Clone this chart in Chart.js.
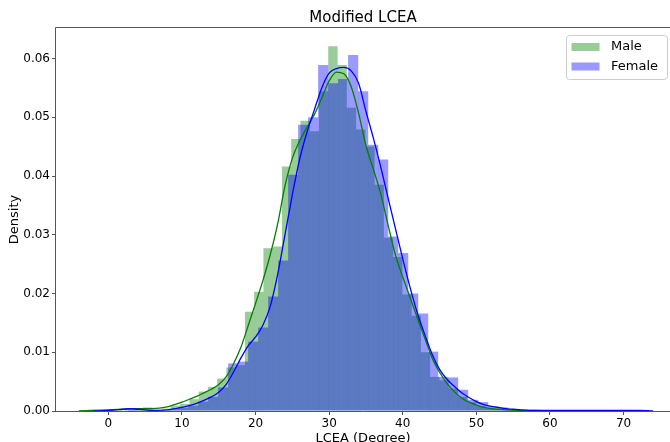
<!DOCTYPE html>
<html>
<head>
<meta charset="utf-8">
<title>Modified LCEA</title>
<script src="https://cdn.jsdelivr.net/npm/chart.js"></script>
<style>
    html, body { margin: 0; padding: 0; background: #fff; overflow: hidden; }
    #chartBox { width: 670px; height: 442px; }
</style>
</head>
<body>
<div id="chartBox"><canvas id="lceaChart" width="670" height="442"></canvas></div>
<script>
// histogram bin centres (degrees) and densities
const maleBins = [-2.171, -0.914, 0.343, 1.600, 2.857, 4.114, 5.371, 6.629, 7.886, 9.143,
    10.400, 11.657, 12.914, 14.171, 15.429, 16.686, 17.943, 19.200, 20.457, 21.714,
    22.971, 24.229, 25.486, 26.743, 28.000, 29.257, 30.514, 31.771, 33.029, 34.286,
    35.543, 36.800, 38.057, 39.314, 40.571, 41.829, 43.086, 44.343, 45.600, 46.857,
    48.114, 49.371, 50.629, 51.886, 53.143, 54.400, 55.657, 56.914, 58.171, 59.429];
const maleDensity = [0.0002, 0.0000, 0.0001, 0.0001, 0.0002, 0.0002, 0.0006, 0.0002, 0.0004, 0.0009,
    0.0012, 0.0020, 0.0033, 0.0041, 0.0055, 0.0074, 0.0078, 0.0169, 0.0203, 0.0277,
    0.0280, 0.0416, 0.0463, 0.0494, 0.0476, 0.0544, 0.0621, 0.0589, 0.0516, 0.0479,
    0.0450, 0.0385, 0.0295, 0.0262, 0.0198, 0.0162, 0.0100, 0.0058, 0.0052, 0.0038,
    0.0024, 0.0015, 0.0008, 0.0005, 0.0003, 0.0002, 0.0001, 0.0001, 0.0000, 0.0001];

const femaleBins = [3.389, 4.747, 6.105, 7.463, 8.821, 10.179, 11.537, 12.895, 14.253, 15.611,
    16.969, 18.327, 19.685, 21.043, 22.401, 23.759, 25.117, 26.475, 27.833, 29.191,
    30.549, 31.907, 33.265, 34.623, 35.981, 37.339, 38.697, 40.055, 41.413, 42.771,
    44.129, 45.487, 46.845, 48.203, 49.561, 50.919, 52.277, 53.635, 54.993, 56.351,
    57.709, 59.067, 60.425, 61.783, 63.141, 64.499, 65.857, 67.215, 68.573, 69.931];
const femaleDensity = [0.0003, 0.0000, 0.0001, 0.0001, 0.0003, 0.0005, 0.0009, 0.0016, 0.0024, 0.0040,
    0.0081, 0.0084, 0.0118, 0.0142, 0.0195, 0.0256, 0.0402, 0.0487, 0.0500, 0.0589,
    0.0558, 0.0565, 0.0606, 0.0544, 0.0453, 0.0428, 0.0297, 0.0269, 0.0200, 0.0166,
    0.0101, 0.0058, 0.0057, 0.0036, 0.0019, 0.0015, 0.0008, 0.0006, 0.0003, 0.0002,
    0.0001, 0.0001, 0.0000, 0.0001, 0.0000, 0.0000, 0.0000, 0.0001, 0.0000, 0.0001];

// kde curves
const maleKdeX = [-4, -2, 0, 2, 4, 6, 8, 9, 10, 11, 12, 13, 14, 15, 16, 17, 18, 19, 20, 21,
    22, 23, 24, 25, 26, 27, 28, 29, 30, 31, 32, 33, 34, 35, 36, 37, 38, 39, 40, 41,
    42, 43, 44, 45, 46, 47, 48, 49, 50, 51, 52, 53, 54, 56, 58, 60, 62, 64];
const maleKde = [0.0000, 0.0001, 0.0002, 0.0003, 0.0004, 0.0004, 0.0007, 0.0011, 0.0015, 0.0020,
    0.0025, 0.0031, 0.0037, 0.0045, 0.0058, 0.0080, 0.0108, 0.0145, 0.0183, 0.0222,
    0.0266, 0.0318, 0.0383, 0.0430, 0.0460, 0.0483, 0.0505, 0.0533, 0.0562, 0.0577,
    0.0574, 0.0552, 0.0507, 0.0452, 0.0412, 0.0370, 0.0317, 0.0266, 0.0228, 0.0193,
    0.0158, 0.0124, 0.0090, 0.0066, 0.0047, 0.0033, 0.0022, 0.0015, 0.0010, 0.0006,
    0.0004, 0.0003, 0.0002, 0.0001, 0.0001, 0.0000, 0.0000, 0.0000];

const femaleKdeX = [-2, 0, 2, 3, 4, 5, 6, 8, 9, 10, 11, 12, 13, 14, 15, 16, 17, 18, 19, 20,
    21, 22, 23, 24, 25, 26, 27, 28, 29, 30, 31, 32, 33, 34, 35, 36, 37, 38, 39, 40,
    41, 42, 43, 44, 45, 46, 47, 48, 49, 50, 51, 52, 53, 54, 55, 56, 58, 60, 62, 65,
    68, 70, 72, 74];
const femaleKde = [0.0000, 0.0001, 0.0003, 0.0004, 0.0003, 0.0002, 0.0001, 0.0002, 0.0004, 0.0006,
    0.0009, 0.0013, 0.0018, 0.0024, 0.0032, 0.0045, 0.0066, 0.0090, 0.0111, 0.0126,
    0.0146, 0.0178, 0.0232, 0.0300, 0.0368, 0.0429, 0.0475, 0.0513, 0.0550, 0.0575,
    0.0583, 0.0585, 0.0579, 0.0558, 0.0510, 0.0465, 0.0416, 0.0363, 0.0311, 0.0259,
    0.0210, 0.0166, 0.0130, 0.0096, 0.0071, 0.0054, 0.0042, 0.0031, 0.0023, 0.0016,
    0.0011, 0.0008, 0.0006, 0.0004, 0.0003, 0.0002, 0.0001, 0.0001, 0.0001, 0.0001,
    0.0001, 0.0001, 0.0001, 0.0000];

const xTicks = [0, 10, 20, 30, 40, 50, 60, 70];
const yTicks = [0, 0.01, 0.02, 0.03, 0.04, 0.05, 0.06];

const GREEN = 'rgba(0, 128, 0, 0.4)';
const BLUE = 'rgba(0, 0, 255, 0.4)';
const SPINE = '#555';

function toPoints(xs, ys) {
    return xs.map((x, i) => ({ x, y: ys[i] }));
}

function roundRect(ctx, x, y, w, h, r) {
    ctx.beginPath();
    ctx.moveTo(x + r, y);
    ctx.lineTo(x + w - r, y);
    ctx.arcTo(x + w, y, x + w, y + r, r);
    ctx.lineTo(x + w, y + h - r);
    ctx.arcTo(x + w, y + h, x + w - r, y + h, r);
    ctx.lineTo(x + r, y + h);
    ctx.arcTo(x, y + h, x, y + h - r, r);
    ctx.lineTo(x, y + r);
    ctx.arcTo(x, y, x + r, y, r);
    ctx.closePath();
}

// matplotlib-like spines and the boxed legend in the top right corner
const frameAndLegend = {
    id: 'frameAndLegend',
    afterDatasetsDraw(chart) {
        const { ctx, chartArea: a } = chart;
        ctx.save();
        ctx.strokeStyle = SPINE;
        ctx.lineWidth = 1;
        ctx.beginPath();
        ctx.moveTo(a.right + 5, a.top - 0.5);
        ctx.lineTo(a.left - 0.5, a.top - 0.5);
        ctx.lineTo(a.left - 0.5, a.bottom + 0.5);
        ctx.lineTo(a.right + 5, a.bottom + 0.5);
        ctx.stroke();

        const items = chart.data.datasets.filter(d => d.type === 'bar');
        const w = 101, h = 44;
        const x = a.right - 3 - w, y = a.top + 7;
        roundRect(ctx, x + 0.5, y + 0.5, w, h, 3);
        ctx.fillStyle = 'rgba(255, 255, 255, 0.8)';
        ctx.fill();
        ctx.strokeStyle = '#cccccc';
        ctx.stroke();
        ctx.font = '13px "DejaVu Sans"';
        ctx.textBaseline = 'middle';
        items.forEach((d, i) => {
            const cy = y + 12 + i * 19.5;
            ctx.fillStyle = d.backgroundColor;
            ctx.fillRect(x + 5.5, cy - 4, 28, 8);
            ctx.fillStyle = '#000';
            ctx.fillText(d.label, x + 45, cy);
        });
        ctx.restore();
    }
};

Chart.defaults.font.family = '"DejaVu Sans"';
Chart.defaults.color = '#000';

const axisFont = { size: 12 };
const tickGrid = { drawOnChartArea: false, drawTicks: true, tickLength: 4, color: SPINE, offset: false };

// each histogram sits on its own x axis (same range) so the bar width
// follows its own bin spacing; grouped:false lets them overlap.
// a tiny inflate hides the anti-aliasing seams between neighbouring bars
const histStyle = {
    type: 'bar',
    grouped: false,
    borderWidth: 0,
    barPercentage: 1,
    categoryPercentage: 1,
    inflateAmount: 0.07
};

new Chart(document.getElementById('lceaChart'), {
    type: 'bar',
    data: {
        datasets: [
            {
                ...histStyle,
                label: 'Male',
                data: toPoints(maleBins, maleDensity),
                xAxisID: 'x',
                backgroundColor: GREEN,
                order: 4
            },
            {
                ...histStyle,
                label: 'Female',
                data: toPoints(femaleBins, femaleDensity),
                xAxisID: 'x2',
                backgroundColor: BLUE,
                order: 3
            },
            {
                type: 'line',
                label: 'Male KDE',
                data: toPoints(maleKdeX, maleKde),
                xAxisID: 'x',
                borderColor: '#008000',
                borderWidth: 1.3,
                pointRadius: 0,
                fill: false,
                cubicInterpolationMode: 'monotone',
                order: 2
            },
            {
                type: 'line',
                label: 'Female KDE',
                data: toPoints(femaleKdeX, femaleKde),
                xAxisID: 'x',
                borderColor: '#0000ff',
                borderWidth: 1.3,
                pointRadius: 0,
                fill: false,
                cubicInterpolationMode: 'monotone',
                order: 1
            }
        ]
    },
    options: {
        responsive: false,
        animation: false,
        events: [],
        layout: { padding: 0 },
        plugins: {
            legend: { display: false },
            tooltip: { enabled: false },
            title: {
                display: true,
                text: 'Modified LCEA',
                fullSize: false,
                font: { size: 15, weight: 'normal' },
                padding: { top: 9, bottom: 1 }
            }
        },
        scales: {
            x: {
                type: 'linear',
                min: -7.1,
                max: 76.3,
                offset: false,
                grid: tickGrid,
                border: { display: false },
                afterBuildTicks: s => { s.ticks = xTicks.map(v => ({ value: v })); },
                afterFit: s => { s.height = 31; },
                ticks: { font: axisFont, padding: 2, maxRotation: 0, autoSkip: false,
                    callback: v => String(v) },
                title: { display: true, text: 'LCEA (Degree)', font: { size: 13 },
                    padding: { top: 0, bottom: -4 } }
            },
            x2: {
                type: 'linear',
                display: false,
                min: -7.1,
                max: 76.3,
                offset: false,
                grid: { offset: false }
            },
            y: {
                min: 0,
                max: 0.0652,
                stacked: false,
                grid: tickGrid,
                border: { display: false },
                afterBuildTicks: s => { s.ticks = yTicks.map(v => ({ value: v })); },
                afterFit: s => { s.width = 56; },
                ticks: { font: axisFont, padding: 2, callback: v => v.toFixed(2) },
                title: { display: true, text: 'Density', font: { size: 13 },
                    padding: { top: 7, bottom: 0 } }
            }
        }
    },
    plugins: [frameAndLegend]
});
</script>
</body>
</html>
